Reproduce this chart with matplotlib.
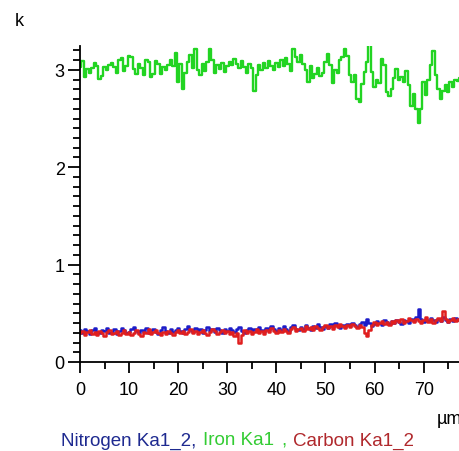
import numpy as np
import matplotlib
matplotlib.use("Agg")
import matplotlib.pyplot as plt
from matplotlib.ticker import MultipleLocator
from matplotlib.offsetbox import TextArea, HPacker, AnchoredOffsetbox

plt.rcParams['font.family'] = ['Liberation Sans', 'DejaVu Sans']

# scan positions (um), one sample every 0.5 um
step = 0.5
# Iron Ka1 (green)
iron = [3.03, 3.09, 2.93, 3.01, 2.97, 3.02, 3.07, 3.04, 2.91, 2.94,
        3.03, 3.00, 3.05, 3.07, 3.03, 2.97, 3.10, 3.12, 2.99, 3.04,
        3.14, 3.13, 3.01, 2.96, 3.06, 3.02, 2.95, 3.10, 3.08, 2.93,
        2.96, 3.09, 3.06, 2.96, 3.03, 3.00, 3.05, 3.10, 3.04, 3.17,
        2.88, 3.06, 2.80, 2.97, 3.08, 3.15, 3.02, 3.21, 3.00, 2.95,
        3.06, 2.99, 3.08, 3.21, 3.10, 2.97, 3.05, 3.01, 3.07, 2.98,
        3.04, 3.08, 3.05, 3.11, 3.06, 3.02, 3.09, 3.03, 2.97, 3.06,
        3.02, 2.78, 2.95, 3.05, 3.00, 3.07, 3.02, 3.09, 3.04, 3.00,
        3.07, 3.03, 3.10, 3.04, 3.12, 3.06, 2.99, 3.21, 3.13, 3.08,
        3.15, 3.06, 3.00, 2.88, 3.04, 2.92, 2.96, 3.02, 2.94, 2.97,
        3.08, 3.16, 3.05, 2.86, 3.00, 2.97, 3.10, 3.13, 3.21, 3.14,
        2.95, 2.88, 2.95, 2.70, 2.67, 2.85, 2.98, 3.08, 3.27, 2.98,
        2.82, 2.90, 2.86, 3.11, 3.05, 2.77, 2.73, 2.80, 2.92, 3.01,
        2.90, 2.93, 2.88, 2.99, 2.84, 2.63, 2.75, 2.60, 2.45, 2.60,
        2.88, 2.74, 2.90, 3.05, 3.19, 2.95, 2.80, 2.70, 2.78, 2.84,
        2.77, 2.88, 2.82, 2.90, 2.89, 2.92]
# Nitrogen Ka1_2 (blue)
nitrogen = [0.33, 0.30, 0.34, 0.32, 0.29, 0.33, 0.35, 0.31, 0.30, 0.33,
            0.32, 0.35, 0.30, 0.31, 0.34, 0.29, 0.32, 0.35, 0.33, 0.30,
            0.31, 0.34, 0.36, 0.32, 0.30, 0.33, 0.31, 0.35, 0.30, 0.32,
            0.34, 0.31, 0.29, 0.33, 0.36, 0.32, 0.30, 0.34, 0.31, 0.33,
            0.35, 0.32, 0.30, 0.34, 0.37, 0.33, 0.31, 0.35, 0.32, 0.34,
            0.30, 0.33, 0.36, 0.32, 0.34, 0.31, 0.35, 0.33, 0.30, 0.34,
            0.32, 0.35, 0.33, 0.31, 0.34, 0.36, 0.32, 0.30, 0.33, 0.35,
            0.31, 0.34, 0.32, 0.36, 0.33, 0.31, 0.35, 0.33, 0.37, 0.34,
            0.32, 0.35, 0.33, 0.37, 0.34, 0.32, 0.36, 0.38, 0.34, 0.33,
            0.36, 0.34, 0.38, 0.35, 0.33, 0.37, 0.35, 0.39, 0.36, 0.34,
            0.37, 0.35, 0.39, 0.36, 0.40, 0.37, 0.35, 0.38, 0.36, 0.39,
            0.37, 0.40, 0.38, 0.36, 0.39, 0.41, 0.38, 0.44, 0.40, 0.37,
            0.39, 0.42, 0.40, 0.38, 0.43, 0.41, 0.39, 0.42, 0.40, 0.43,
            0.41, 0.39, 0.43, 0.42, 0.40, 0.44, 0.42, 0.46, 0.54, 0.44,
            0.41, 0.44, 0.42, 0.45, 0.43, 0.41, 0.44, 0.42, 0.46, 0.43,
            0.41, 0.44, 0.42, 0.45, 0.43, 0.44]
# Carbon Ka1_2 (red)
carbon = [0.30, 0.32, 0.28, 0.31, 0.33, 0.29, 0.31, 0.28, 0.32, 0.30,
          0.27, 0.31, 0.33, 0.29, 0.30, 0.32, 0.28, 0.30, 0.33, 0.29,
          0.31, 0.28, 0.30, 0.33, 0.29, 0.27, 0.31, 0.30, 0.34, 0.29,
          0.31, 0.33, 0.30, 0.28, 0.31, 0.29, 0.32, 0.30, 0.28, 0.31,
          0.33, 0.30, 0.32, 0.29, 0.31, 0.34, 0.30, 0.32, 0.29, 0.31,
          0.33, 0.30, 0.28, 0.31, 0.34, 0.32, 0.29, 0.31, 0.33, 0.30,
          0.32, 0.29, 0.31, 0.27, 0.30, 0.20, 0.28, 0.33, 0.30, 0.32,
          0.29, 0.31, 0.34, 0.30, 0.32, 0.29, 0.33, 0.31, 0.35, 0.32,
          0.30, 0.33, 0.31, 0.34, 0.32, 0.30, 0.34, 0.36, 0.32, 0.34,
          0.35, 0.32, 0.37, 0.34, 0.36, 0.33, 0.37, 0.35, 0.33, 0.36,
          0.38, 0.35, 0.37, 0.34, 0.38, 0.36, 0.39, 0.37, 0.35, 0.38,
          0.36, 0.39, 0.37, 0.35, 0.38, 0.36, 0.30, 0.27, 0.33, 0.38,
          0.41, 0.38, 0.40, 0.42, 0.39, 0.41, 0.38, 0.42, 0.40, 0.43,
          0.41, 0.44, 0.40, 0.42, 0.45, 0.43, 0.41, 0.44, 0.42, 0.40,
          0.43, 0.46, 0.41, 0.44, 0.40, 0.43, 0.45, 0.42, 0.52, 0.44,
          0.41, 0.43, 0.45, 0.42, 0.44, 0.43]

x = np.arange(len(iron)) * step

blue = '#1c1cc8'
green = '#22d422'
red = '#e01e1e'

fig = plt.figure(figsize=(4.6, 4.52), dpi=100)
ax = fig.add_axes([80 / 460, 89 / 452, 380 / 460, 316.5 / 452])

ax.plot(x, nitrogen, color=blue, lw=1.8, drawstyle='steps-mid')
ax.plot(x, iron, color=green, lw=1.7, drawstyle='steps-mid')
ax.plot(x, carbon, color=red, lw=1.8, drawstyle='steps-mid')

ax.set_xlim(0, 77.4)
ax.set_ylim(0, 3.25)
for s in ['top', 'right']:
    ax.spines[s].set_visible(False)
for s in ['left', 'bottom']:
    ax.spines[s].set_linewidth(1.3)

ax.xaxis.set_major_locator(MultipleLocator(10))
ax.xaxis.set_minor_locator(MultipleLocator(5))
ax.yaxis.set_major_locator(MultipleLocator(1))
ax.yaxis.set_minor_locator(MultipleLocator(0.1))
ax.tick_params(axis='x', which='major', length=8, width=1.3, pad=6, labelsize=13)
ax.tick_params(axis='x', which='minor', length=5, width=1.3)
ax.tick_params(axis='y', which='major', length=9, width=1.3, pad=2, labelsize=13)
ax.tick_params(axis='y', which='minor', length=5, width=1.3)

fig.text(19 / 460, 1 - 21 / 452, 'k', fontsize=13, ha='center', va='center')
fig.text(437 / 460, 1 - 419 / 452, 'µm', fontsize=13, ha='left', va='center')

# coloured series names under the axis
parts = [('Nitrogen Ka1_2,', '#1e2a90'), ('Iron Ka1', '#33cc33'),
         (',', '#33cc33'), ('Carbon Ka1_2', '#b0282c')]
areas = [TextArea(t, textprops=dict(color=c, fontsize=13.5)) for t, c in parts]
box = HPacker(children=areas, align='baseline', pad=0, sep=5)
anchored = AnchoredOffsetbox(loc='center left', child=box, pad=0, frameon=False,
                             bbox_to_anchor=(61 / 460, 1 - 441 / 452),
                             bbox_transform=fig.transFigure, borderpad=0)
fig.add_artist(anchored)

fig.savefig('out.png', dpi=100)
